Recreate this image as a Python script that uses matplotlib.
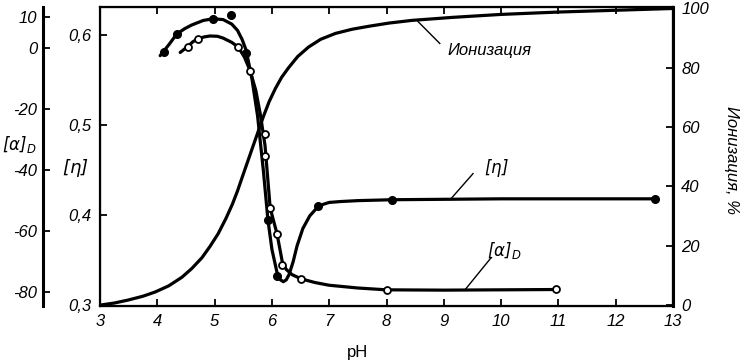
import matplotlib

matplotlib.use("Agg")

import matplotlib.pyplot as plt

plt.rcParams["font.family"] = ["Liberation Sans", "DejaVu Sans"]
plt.rcParams["font.style"] = "italic"
plt.rcParams["mathtext.fontset"] = "dejavusans"

# [eta] vs pH: measured points (filled) and the drawn curve
eta_ph = [4.12, 4.34, 4.97, 5.29, 5.55, 5.93, 6.09, 6.80, 8.10, 12.68]
eta_val = [0.581, 0.601, 0.618, 0.622, 0.580, 0.395, 0.332, 0.410, 0.417, 0.418]
eta_curve_ph = [4.05, 4.2, 4.34, 4.48, 4.6, 4.8, 4.97, 5.15, 5.3, 5.4, 5.48, 5.55, 5.65, 5.75,
                5.85, 5.93, 6.0, 6.09, 6.15, 6.2, 6.25, 6.3, 6.37, 6.44, 6.54, 6.66, 6.8, 6.9,
                7.0, 7.2, 7.5, 8.1, 10.0, 12.68]
eta_curve = [0.577, 0.589, 0.601, 0.607, 0.611, 0.616, 0.618, 0.617, 0.612, 0.605, 0.595,
             0.583, 0.552, 0.510, 0.450, 0.395, 0.362, 0.336, 0.328, 0.326, 0.328, 0.334,
             0.348, 0.366, 0.385, 0.399, 0.409, 0.412, 0.414, 0.415, 0.416, 0.417, 0.418, 0.418]

# specific rotation [alpha]_D vs pH: open points and curve
alpha_ph = [4.54, 4.71, 5.41, 5.62, 5.88, 5.88, 5.97, 6.09, 6.18, 6.51, 8.0, 10.95]
alpha_val = [0.3, 3.0, 0.3, -7.5, -28.2, -35.4, -52.5, -61.0, -71.0, -75.7, -79.3, -79.0]
alpha_curve_ph = [4.4, 4.54, 4.62, 4.71, 4.82, 4.92, 5.05, 5.15, 5.3, 5.41, 5.52, 5.62, 5.72,
                  5.8, 5.88, 5.97, 6.09, 6.18, 6.25, 6.35, 6.51, 6.75, 7.0, 7.5, 8.0, 9.0, 10.95]
alpha_curve = [-1.5, 0.6, 2.0, 3.0, 3.6, 3.9, 3.8, 3.2, 1.8, 0.3, -3.0, -7.5, -14.0, -22.0,
               -32.0, -52.5, -61.0, -70.0, -72.6, -74.3, -75.7, -76.9, -77.8, -78.7, -79.3,
               -79.4, -79.2]

# degree of ionization, %
ion_ph = [3.0, 3.25, 3.49, 3.75, 3.96, 4.2, 4.43, 4.6, 4.78, 4.92, 5.06, 5.2, 5.31, 5.4,
          5.48, 5.57, 5.66, 5.76, 5.85, 5.95, 6.06, 6.17, 6.29, 6.45, 6.64, 6.85, 7.11,
          7.4, 7.69, 8.05, 8.45, 9.15, 10.0, 11.0, 12.0, 13.0]
ion_val = [0.0, 0.7, 1.7, 3.0, 4.4, 6.5, 9.4, 12.3, 16.0, 19.8, 24.0, 29.3, 34.0, 38.5,
           43.0, 48.0, 53.0, 58.5, 63.5, 68.5, 73.0, 76.8, 80.0, 83.8, 87.0, 89.6, 91.6,
           93.0, 94.0, 95.1, 96.0, 97.0, 98.0, 98.8, 99.4, 100.0]

ph_ticks = [3, 4, 5, 6, 7, 8, 9, 10, 11, 12, 13]
eta_ticks = [0.3, 0.4, 0.5, 0.6]
eta_labels = ["0,3", "0,4", "0,5", "0,6"]
ion_ticks = [0, 20, 40, 60, 80, 100]
alpha_ticks = [10, 0, -20, -40, -60, -80]

W, H = 756, 364
fig = plt.figure(figsize=(W / 100, H / 100), dpi=100)
left, right, top, bottom = 100, 673, 7, 306
ax = fig.add_axes([left / W, 1 - bottom / H, (right - left) / W, (bottom - top) / H])

lw = 2.3
ax.plot(eta_curve_ph, eta_curve, color="black", lw=lw, solid_capstyle="round",
        solid_joinstyle="round", zorder=3)
ax.plot(eta_ph, eta_val, "o", color="black", ms=5.5, zorder=4)
ax.set_xlim(3, 13)
ax.set_ylim(0.299, 0.631)
ax.set_xticks(ph_ticks)
ax.set_xticklabels([str(t) for t in ph_ticks], fontsize=12)
ax.set_yticks(eta_ticks)
ax.set_yticklabels(eta_labels, fontsize=12)
ax.tick_params(direction="in", length=5, width=1.3, top=True, pad=6)
for s in ax.spines.values():
    s.set_linewidth(1.6)

# ionization on right axis
axr = ax.twinx()
axr.plot(ion_ph, ion_val, color="black", lw=lw, solid_capstyle="round",
         solid_joinstyle="round", zorder=3)
axr.set_ylim(-0.3, 100.5)
axr.set_yticks(ion_ticks)
axr.set_yticklabels([str(t) for t in ion_ticks], fontsize=12)
axr.tick_params(direction="in", length=5, width=1.3, pad=6)
axr.spines["right"].set_linewidth(2.2)

# [alpha]_D on a detached left axis
axa = ax.twinx()
axa.spines["left"].set_position(("axes", -57 / (right - left)))
axa.spines["left"].set_visible(True)
axa.spines["left"].set_linewidth(2.2)
for k in ("right", "top", "bottom"):
    axa.spines[k].set_visible(False)
axa.yaxis.set_ticks_position("left")
axa.yaxis.set_label_position("left")
axa.plot(alpha_curve_ph, alpha_curve, color="black", lw=lw, solid_capstyle="round",
         solid_joinstyle="round", zorder=3)
axa.plot(alpha_ph, alpha_val, "o", mfc="white", mec="black", mew=1.3, ms=5, zorder=4)
axa.set_ylim(-84.6, 13.4)
axa.set_yticks(alpha_ticks)
axa.set_yticklabels([str(t) for t in alpha_ticks], fontsize=12)
axa.tick_params(direction="in", length=5, width=1.3, pad=4)

# axis titles
fig.text(358 / W, 1 - 352 / H, "pH", fontsize=12, style="normal", ha="center", va="center")
fig.text(75 / W, 1 - 168 / H, r"$[\eta]$", fontsize=13, ha="center", va="center")
fig.text(2 / W, 1 - 145 / H, r"$[\alpha]_D$", fontsize=12, ha="left", va="center")
fig.text(732 / W, 1 - 160 / H, "Ионизация, %", fontsize=12, rotation=270,
         ha="center", va="center")

# curve labels with leader lines
axr.text(9.07, 86, "Ионизация", fontsize=12, ha="left", va="center")
axr.plot([8.93, 8.55], [88.2, 95.6], color="black", lw=1.0)
ax.text(9.91, 0.452, r"$[\eta]$", fontsize=12, ha="center", va="center")
ax.plot([9.51, 9.11], [0.446, 0.417], color="black", lw=1.0)
axa.text(10.05, -66.5, r"$[\alpha]_D$", fontsize=12, ha="center", va="center")
axa.plot([9.82, 9.37], [-68.9, -79.3], color="black", lw=1.0)

fig.savefig("out.png", dpi=100)
